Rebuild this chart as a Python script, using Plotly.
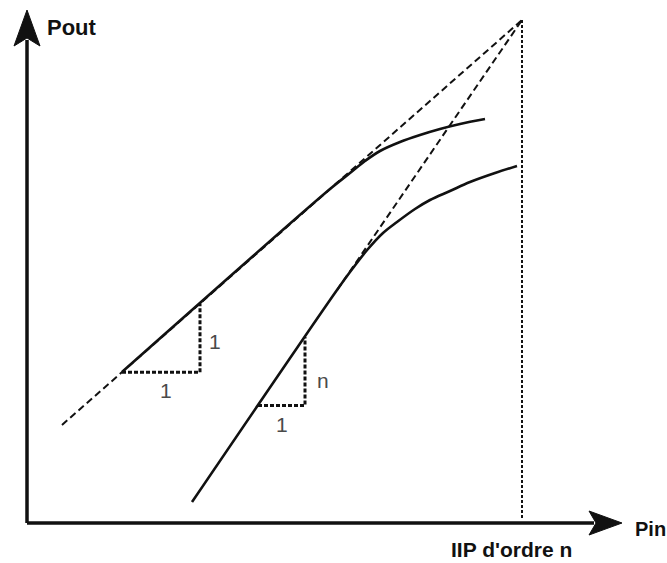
import plotly.graph_objects as go

# Input / output power, arbitrary schematic units (origin at the axes corner)
pin_fund = [95, 303, 323, 338, 353, 373, 393, 413, 433, 458]
pout_fund = [151, 334, 350, 362, 372, 381, 388, 394, 399, 404]

pin_im = [165, 310, 326, 341, 356, 370, 388, 403, 423, 443, 468, 490]
pout_im = [21, 233, 255, 274, 290, 301, 314, 323, 332, 341, 350, 357]

# Intercept point
ip_pin, ip_pout = 495, 503

# Start of the small-signal asymptotes
fund_start = (35, 98)
im_start = (165, 21)

# Slope triangles: (base x, horizontal run)
tri_fund = (95, 78)
tri_im = (231, 47)

x_range = [-27, 640]
y_range = [-40, 523]
x_tip, y_tip = 595, 513

INK = "#111111"
LABEL = "#4a4a4a"
FONT = "Liberation Sans, Arial, sans-serif"


def asym(p0, x):
    slope = (ip_pout - p0[1]) / (ip_pin - p0[0])
    return p0[1] + slope * (x - p0[0])


fig = go.Figure()

# Dashed asymptotes toward the intercept point
fig.add_trace(go.Scatter(x=[fund_start[0], ip_pin], y=[fund_start[1], ip_pout],
                         mode="lines", line=dict(color=INK, width=2, dash="7px,4px"),
                         hoverinfo="skip"))
fig.add_trace(go.Scatter(x=[pin_im[1], ip_pin], y=[asym(im_start, pin_im[1]), ip_pout],
                         mode="lines", line=dict(color=INK, width=2, dash="7px,4px"),
                         hoverinfo="skip"))

# Vertical marker below the intercept point
fig.add_trace(go.Scatter(x=[ip_pin, ip_pin], y=[ip_pout, 3],
                         mode="lines", line=dict(color=INK, width=2, dash="3px,2px"),
                         hoverinfo="skip"))

# Slope triangles
for (x0, run), p0 in ((tri_fund, fund_start), (tri_im, im_start)):
    y0 = asym(p0, x0)
    y1 = asym(p0, x0 + run)
    fig.add_trace(go.Scatter(x=[x0, x0 + run, x0 + run], y=[y0, y0, y1],
                             mode="lines", line=dict(color=INK, width=3, dash="4px,2px"),
                             hoverinfo="skip"))

# Power curves
for xs, ys in ((pin_fund, pout_fund), (pin_im, pout_im)):
    fig.add_trace(go.Scatter(x=xs, y=ys, mode="lines",
                             line=dict(color=INK, width=2.6, shape="spline", smoothing=1),
                             hoverinfo="skip"))

# Axes with arrowheads
shapes = [
    dict(type="line", x0=0, y0=0, x1=0, y1=y_tip - 30, line=dict(color=INK, width=3.5)),
    dict(type="line", x0=0, y0=0, x1=x_tip - 28, y1=0, line=dict(color=INK, width=3.5)),
    dict(type="path", path=f"M {-13},{y_tip - 36} L 0,{y_tip} L 13,{y_tip - 36} L 0,{y_tip - 28} Z",
         fillcolor=INK, line=dict(color=INK, width=1)),
    dict(type="path", path=f"M {x_tip - 33},-12 L {x_tip},0 L {x_tip - 33},12 L {x_tip - 26},0 Z",
         fillcolor=INK, line=dict(color=INK, width=1)),
]

fy0 = asym(fund_start, tri_fund[0])
fy1 = asym(fund_start, tri_fund[0] + tri_fund[1])
iy0 = asym(im_start, tri_im[0])
iy1 = asym(im_start, tri_im[0] + tri_im[1])

annotations = [
    dict(x=18, y=496, text="<b>Pout</b>", xanchor="left", yanchor="middle",
         font=dict(size=22, color=INK)),
    dict(x=606, y=-6, text="<b>Pin</b>", xanchor="left", yanchor="middle",
         font=dict(size=20, color=INK)),
    dict(x=ip_pin - 11, y=-26, text="<b>IIP d'ordre n</b>", xanchor="center", yanchor="middle",
         font=dict(size=21, color=INK)),
    dict(x=tri_fund[0] + tri_fund[1] / 2 + 5, y=fy0 - 18, text="1",
         font=dict(size=21, color=LABEL)),
    dict(x=tri_fund[0] + tri_fund[1] + 15, y=(fy0 + fy1) / 2 - 4, text="1",
         font=dict(size=21, color=LABEL)),
    dict(x=tri_im[0] + tri_im[1] / 2, y=iy0 - 19, text="1",
         font=dict(size=21, color=LABEL)),
    dict(x=tri_im[0] + tri_im[1] + 18, y=(iy0 + iy1) / 2 - 9, text="n",
         font=dict(size=21, color=LABEL)),
]
for a in annotations:
    a["showarrow"] = False
    a["font"]["family"] = FONT

fig.update_layout(
    width=667, height=563,
    margin=dict(l=0, r=0, t=0, b=0),
    paper_bgcolor="white", plot_bgcolor="white",
    showlegend=False,
    xaxis=dict(range=x_range, visible=False, fixedrange=True),
    yaxis=dict(range=y_range, visible=False, fixedrange=True),
    shapes=shapes,
    annotations=annotations,
)

fig.write_html("out.html")
